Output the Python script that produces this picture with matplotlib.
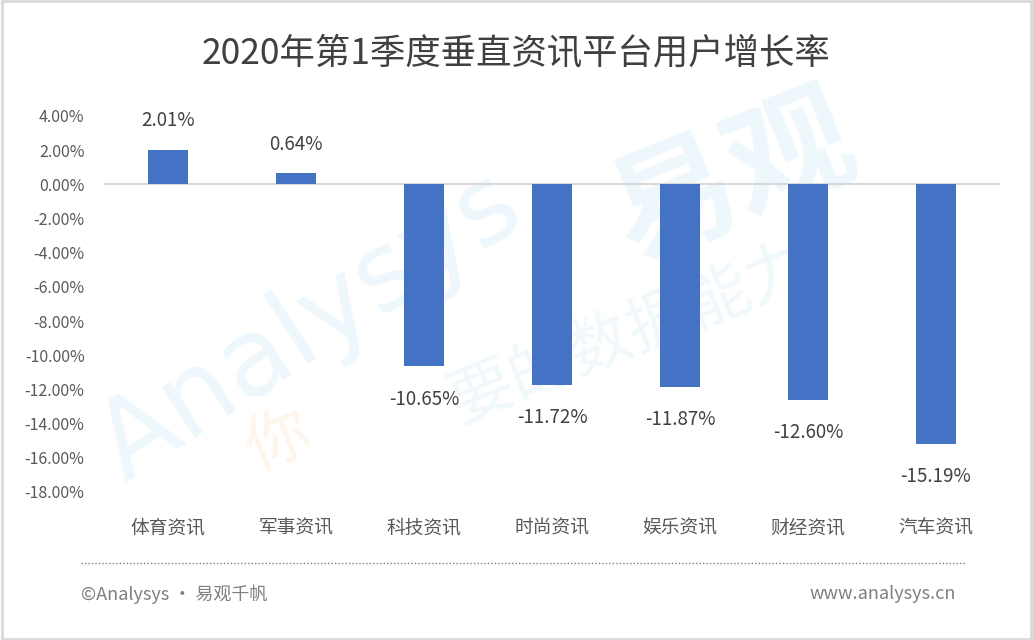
import matplotlib.pyplot as plt
import numpy as np
from matplotlib.patches import Rectangle
from matplotlib.lines import Line2D

plt.rcParams['font.family'] = ['Noto Sans CJK SC', 'DejaVu Sans']

categories = ['体育资讯', '军事资讯', '科技资讯', '时尚资讯', '娱乐资讯', '财经资讯', '汽车资讯']
growth = [2.01, 0.64, -10.65, -11.72, -11.87, -12.60, -15.19]
yticks = np.arange(-18, 5, 2)
title = '2020年第1季度垂直资讯平台用户增长率'

fig = plt.figure(figsize=(10.33, 6.4), dpi=100)
fig.patch.set_facecolor('white')

# border
fig.add_artist(Rectangle((0.002, 0.002), 0.996, 0.996, transform=fig.transFigure,
                         fill=False, edgecolor='#d9d9d9', linewidth=2, zorder=-2))

# watermark (behind the plot)
fig.text(0.30, 0.49, 'Analysys', fontsize=78, color='#eef7fc', rotation=33,
         ha='center', va='center', zorder=-1, family='DejaVu Sans')
fig.text(0.71, 0.72, '易观', fontsize=90, color='#eef7fc', rotation=22,
         ha='center', va='center', fontweight='bold', zorder=-1)
fig.text(0.27, 0.31, '你', fontsize=46, color='#fef5ec', rotation=22,
         ha='center', va='center', zorder=-1)
fig.text(0.61, 0.48, '要的数据能力', fontsize=46, color='#f1f8fc', rotation=22,
         ha='center', va='center', zorder=-1)

ax = fig.add_axes([0.1007, 0.2313, 0.8673, 0.5875])
ax.set_zorder(1)
ax.patch.set_alpha(0)
x = np.arange(len(categories))
ax.bar(x, growth, width=0.31, color='#4472c4', zorder=3)
ax.axhline(0, color='#d9d9d9', linewidth=1.5, zorder=2)

for xi, v in zip(x, growth):
    if v >= 0:
        ax.text(xi, v + 1.1, f'{v:.2f}%', ha='center', va='bottom', fontsize=13.5, color='#404040')
    else:
        ax.text(xi, v - 1.3, f'{v:.2f}%', ha='center', va='top', fontsize=13.5, color='#404040')

ax.set_xlim(-0.5, len(categories) - 0.5)
ax.set_ylim(-18, 4)
ax.set_yticks(yticks)
ax.set_yticklabels([f'{t:.2f}%' for t in yticks], fontsize=11.5, color='#595959')
ax.set_xticks(x)
ax.set_xticklabels(categories, fontsize=13.5, color='#595959')
ax.tick_params(length=0)
ax.tick_params(axis='y', pad=14)
ax.tick_params(axis='x', pad=18)
for s in ax.spines.values():
    s.set_visible(False)

fig.text(0.5, 0.915, title, ha='center', va='center', fontsize=25.5, color='#404040')

# footer
fig.add_artist(Line2D([0.078, 0.935], [0.12, 0.12], transform=fig.transFigure,
                      color='#808080', linestyle=(0, (1, 1.5)), linewidth=1))
fig.text(0.078, 0.072, '©Analysys · 易观千帆', ha='left', va='center', fontsize=13, color='#7f7f7f')
fig.text(0.925, 0.072, 'www.analysys.cn', ha='right', va='center', fontsize=13, color='#7f7f7f')

fig.savefig('out.png', dpi=100)
